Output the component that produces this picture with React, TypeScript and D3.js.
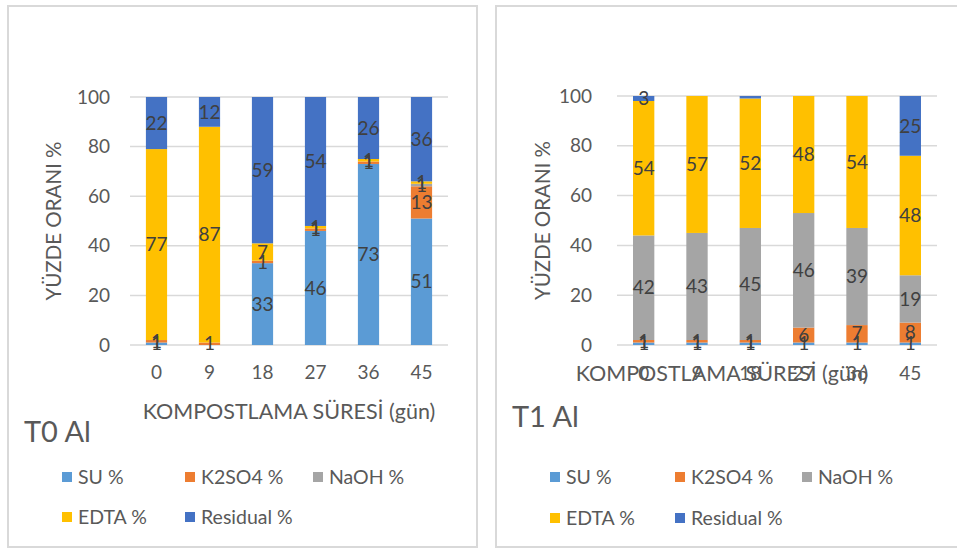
import React from "react";
import * as d3 from "d3";

// Composting days on the x axis
const days = ["0", "9", "18", "27", "36", "45"];
const seriesKeys = ["SU %", "K2SO4 %", "NaOH %", "EDTA %", "Residual %"];
const seriesColors = ["#5B9BD5", "#ED7D31", "#A5A5A5", "#FFC000", "#4472C4"];
const yTicks = [0, 20, 40, 60, 80, 100];

// T0 Al fractions (%) per day
const t0Su = [1, 0, 33, 46, 73, 51];
const t0K2so4 = [1, 1, 1, 1, 1, 13];
const t0Naoh = [0, 0, 0, 0, 0, 1];
const t0Edta = [77, 87, 7, 1, 1, 1];
const t0Residual = [22, 12, 59, 54, 26, 36];

// T1 Al fractions (%) per day
const t1Su = [1, 1, 1, 1, 1, 1];
const t1K2so4 = [1, 1, 1, 6, 7, 8];
const t1Naoh = [42, 43, 45, 46, 39, 19];
const t1Edta = [54, 57, 52, 48, 54, 48];
const t1Residual = [3, 0, 1, 0, 0, 25];

const FONT = "Lato, 'Liberation Sans', Arial, sans-serif";
const TEXT = "#595959";
const LABEL = "#404040";

type Row = { day: string; [k: string]: number | string };

function buildRows(cols: number[][]): Row[] {
  return days.map((day, i) => {
    const r: Row = { day };
    seriesKeys.forEach((k, j) => (r[k] = cols[j][i]));
    return r;
  });
}

type PanelProps = {
  id: string;
  title: string;
  rows: Row[];
  box: { x0: number; x1: number; y0: number; y1: number };
  plot: { left: number; right: number; top: number; bottom: number };
  yTickX: number;
  xTickY: number;
  xTitle: { x: number; y: number };
  yTitleX: number;
  titlePos: { x: number; y: number };
  legendX: number[];
  legendY: number[];
};

function Panel(p: PanelProps) {
  const x = d3
    .scaleBand<string>()
    .domain(days)
    .range([p.plot.left, p.plot.right])
    .paddingInner(0.6)
    .paddingOuter(0.3);
  const y = d3.scaleLinear().domain([0, 100]).range([p.plot.bottom, p.plot.top]);
  const stacked = d3.stack<Row>().keys(seriesKeys)(p.rows);
  const clipId = `clip-${p.id}`;

  const legendItems = seriesKeys.map((k, i) => ({
    key: k,
    color: seriesColors[i],
    x: p.legendX[i % 3],
    y: p.legendY[Math.floor(i / 3)],
  }));

  return (
    <g>
      <rect
        x={p.box.x0}
        y={p.box.y0}
        width={p.box.x1 - p.box.x0}
        height={p.box.y1 - p.box.y0}
        fill="#fff"
        stroke="#D9D9D9"
        strokeWidth={2}
      />
      <defs>
        <clipPath id={clipId}>
          <rect
            x={p.plot.left}
            y={p.plot.top}
            width={p.plot.right - p.plot.left}
            height={p.plot.bottom - p.plot.top}
          />
        </clipPath>
      </defs>
      {yTicks.map((t) => (
        <g key={t}>
          <line
            x1={p.plot.left}
            x2={p.plot.right}
            y1={y(t)}
            y2={y(t)}
            stroke="#D9D9D9"
            strokeWidth={1.5}
          />
          <text
            x={p.yTickX}
            y={y(t)}
            dy="0.35em"
            textAnchor="end"
            fontSize={19}
            fill={TEXT}
            fontFamily={FONT}
          >
            {t}
          </text>
        </g>
      ))}
      <g clipPath={`url(#${clipId})`}>
        {stacked.map((s, si) =>
          s.map((d) => (
            <rect
              key={`${s.key}-${d.data.day}`}
              x={x(d.data.day as string)}
              width={x.bandwidth()}
              y={y(d[1])}
              height={Math.max(0, y(d[0]) - y(d[1]))}
              fill={seriesColors[si]}
            />
          ))
        )}
      </g>
      {stacked.map((s) =>
        s.map((d) => {
          const v = d[1] - d[0];
          if (v <= 0) return null;
          // a sliver pushed past the top of the axis carries no label
          if (d[0] >= 99 && v < 2) return null;
          const top = Math.min(d[1], 100);
          return (
            <text
              key={`lbl-${s.key}-${d.data.day}`}
              x={(x(d.data.day as string) as number) + x.bandwidth() / 2}
              y={y((d[0] + top) / 2)}
              dy="0.35em"
              textAnchor="middle"
              fontSize={19}
              fill={LABEL}
              fontFamily={FONT}
            >
              {v}
            </text>
          );
        })
      )}
      {days.map((d) => (
        <text
          key={`xt-${d}`}
          x={(x(d) as number) + x.bandwidth() / 2}
          y={p.xTickY}
          dy="0.35em"
          textAnchor="middle"
          fontSize={19}
          fill={TEXT}
          fontFamily={FONT}
        >
          {d}
        </text>
      ))}
      <text
        x={p.xTitle.x}
        y={p.xTitle.y}
        dy="0.35em"
        textAnchor="middle"
        fontSize={21.5}
        fill={TEXT}
        fontFamily={FONT}
      >
        KOMPOSTLAMA SÜRESİ (gün)
      </text>
      <text
        transform={`translate(${p.yTitleX},${(p.plot.top + p.plot.bottom) / 2}) rotate(-90)`}
        dy="0.35em"
        textAnchor="middle"
        fontSize={20.5}
        fill={TEXT}
        fontFamily={FONT}
      >
        YÜZDE ORANI %
      </text>
      <text
        x={p.titlePos.x}
        y={p.titlePos.y}
        fontSize={29}
        fill={TEXT}
        fontFamily={FONT}
      >
        {p.title}
      </text>
      {legendItems.map((it) => (
        <g key={`lg-${it.key}`}>
          <rect x={it.x} y={it.y - 5} width={10} height={10} fill={it.color} />
          <text
            x={it.x + 16}
            y={it.y}
            dy="0.35em"
            fontSize={19.5}
            fill={TEXT}
            fontFamily={FONT}
          >
            {it.key}
          </text>
        </g>
      ))}
    </g>
  );
}

export default function App() {
  const t0Rows = buildRows([t0Su, t0K2so4, t0Naoh, t0Edta, t0Residual]);
  const t1Rows = buildRows([t1Su, t1K2so4, t1Naoh, t1Edta, t1Residual]);
  return (
    <div style={{ position: "absolute", left: 0, top: 0 }}>
      <svg width={957} height={549} style={{ display: "block", background: "#fff" }}>
        <Panel
          id="t0"
          title="T0 Al"
          rows={t0Rows}
          box={{ x0: 8, x1: 477, y0: 6, y1: 547 }}
          plot={{ left: 130, right: 448, top: 97, bottom: 345 }}
          yTickX={110}
          xTickY={372}
          xTitle={{ x: 289, y: 411 }}
          yTitleX={54}
          titlePos={{ x: 24, y: 442 }}
          legendX={[62, 185, 313]}
          legendY={[477, 517]}
        />
        <Panel
          id="t1"
          title="T1 Al"
          rows={t1Rows}
          box={{ x0: 496, x1: 970, y0: 6, y1: 547 }}
          plot={{ left: 617, right: 937, top: 96, bottom: 345 }}
          yTickX={592}
          xTickY={373}
          xTitle={{ x: 722, y: 373 }}
          yTitleX={543}
          titlePos={{ x: 512, y: 427 }}
          legendX={[550, 675, 802]}
          legendY={[477, 518]}
        />
      </svg>
    </div>
  );
}
